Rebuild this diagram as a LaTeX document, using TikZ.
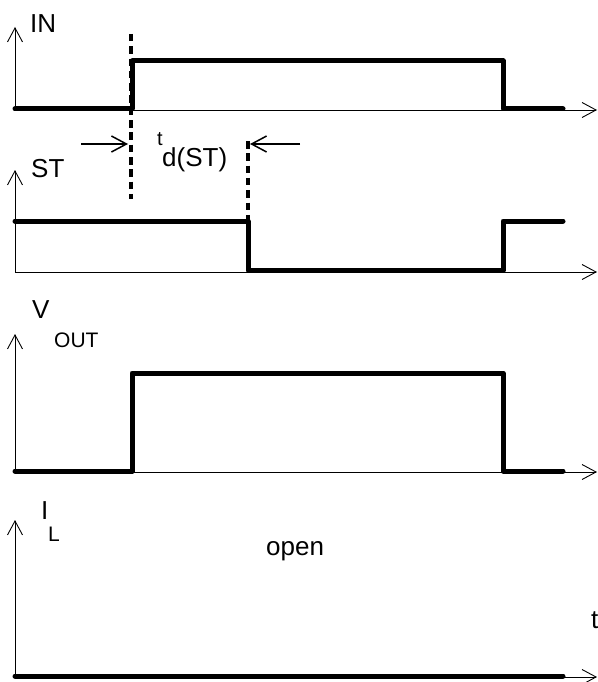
\documentclass[tikz,border=0pt]{standalone}
\usepackage{fontspec}
\setmainfont{Liberation Sans}
\usetikzlibrary{arrows.meta}
\tikzstyle{axis} = [line width=0.9pt, -{Straight Barb[length=14pt,width=15pt]}]
\tikzstyle{signal} = [line width=5pt, line cap=round, line join=round]
\tikzstyle{marker} = [line width=3.8pt, dash pattern=on 7.5pt off 4.8pt]
\tikzstyle{dimarrow} = [line width=1.5pt, -{Straight Barb[length=15pt,width=16pt]}]
\tikzstyle{signame} = [inner sep=0pt, anchor=base west, font=\fontsize{26}{31}\selectfont]
\tikzstyle{subname} = [inner sep=0pt, anchor=base west, font=\fontsize{21}{25}\selectfont]

\begin{document}
\begin{tikzpicture}[x=1pt, y=-1pt]
  \useasboundingbox (0,0) rectangle (597,682);

  % axes
  \foreach \base/\tip in {110/27, 272/170, 472/334, 677/520} {
    \draw [axis] (15,\base) -- (15,\tip);
    \draw [axis] (15,\base) -- (597,\base);
  }

  % signals
  \draw [signal] (15,109) -- (132,109) -- (132,61) -- (503,61) -- (503,109) -- (563,109);
  \draw [signal] (15,221) -- (248,221) -- (248,270) -- (503,270) -- (503,221) -- (563,221);
  \draw [signal] (15,471) -- (132,471) -- (132,373) -- (503,373) -- (503,471) -- (563,471);
  \draw [signal] (15,676) -- (563,676);

  % delay markers
  \coordinate (m1top) at (131,34);
  \coordinate (m1bot) at (131,199);
  \coordinate (m2top) at (248,141);
  \coordinate (m2bot) at (248,270);
  \draw [marker] (m1top) -- (m1bot);
  \draw [marker] (m2top) -- (m2bot);
  \coordinate (dl) at (81,144);
  \coordinate (dr) at (300,144);
  \draw [dimarrow] (dl) -- (128,144);
  \draw [dimarrow] (dr) -- (250,144);

  % labels
  \node (in) [signame] at (30,33) {IN};
  \node (st) [signame] at (31,177) {ST};
  \node (vout) [signame] at (32,318) {V};
  \node (voutsub) [subname] at (54,347) {OUT};
  \node (il) [signame] at (41,519) {I};
  \node (ilsub) [subname] at (48,541) {L};
  \node (td) [inner sep=0pt, anchor=base west, font=\fontsize{20}{24}\selectfont] at (157,145) {t};
  \node (tdsub) [signame] at (162,166) {d(ST)};
  \node (open) [signame] at (266,555) {open};
  \node (t) [signame] at (591,628) {t};
\end{tikzpicture}
\end{document}
